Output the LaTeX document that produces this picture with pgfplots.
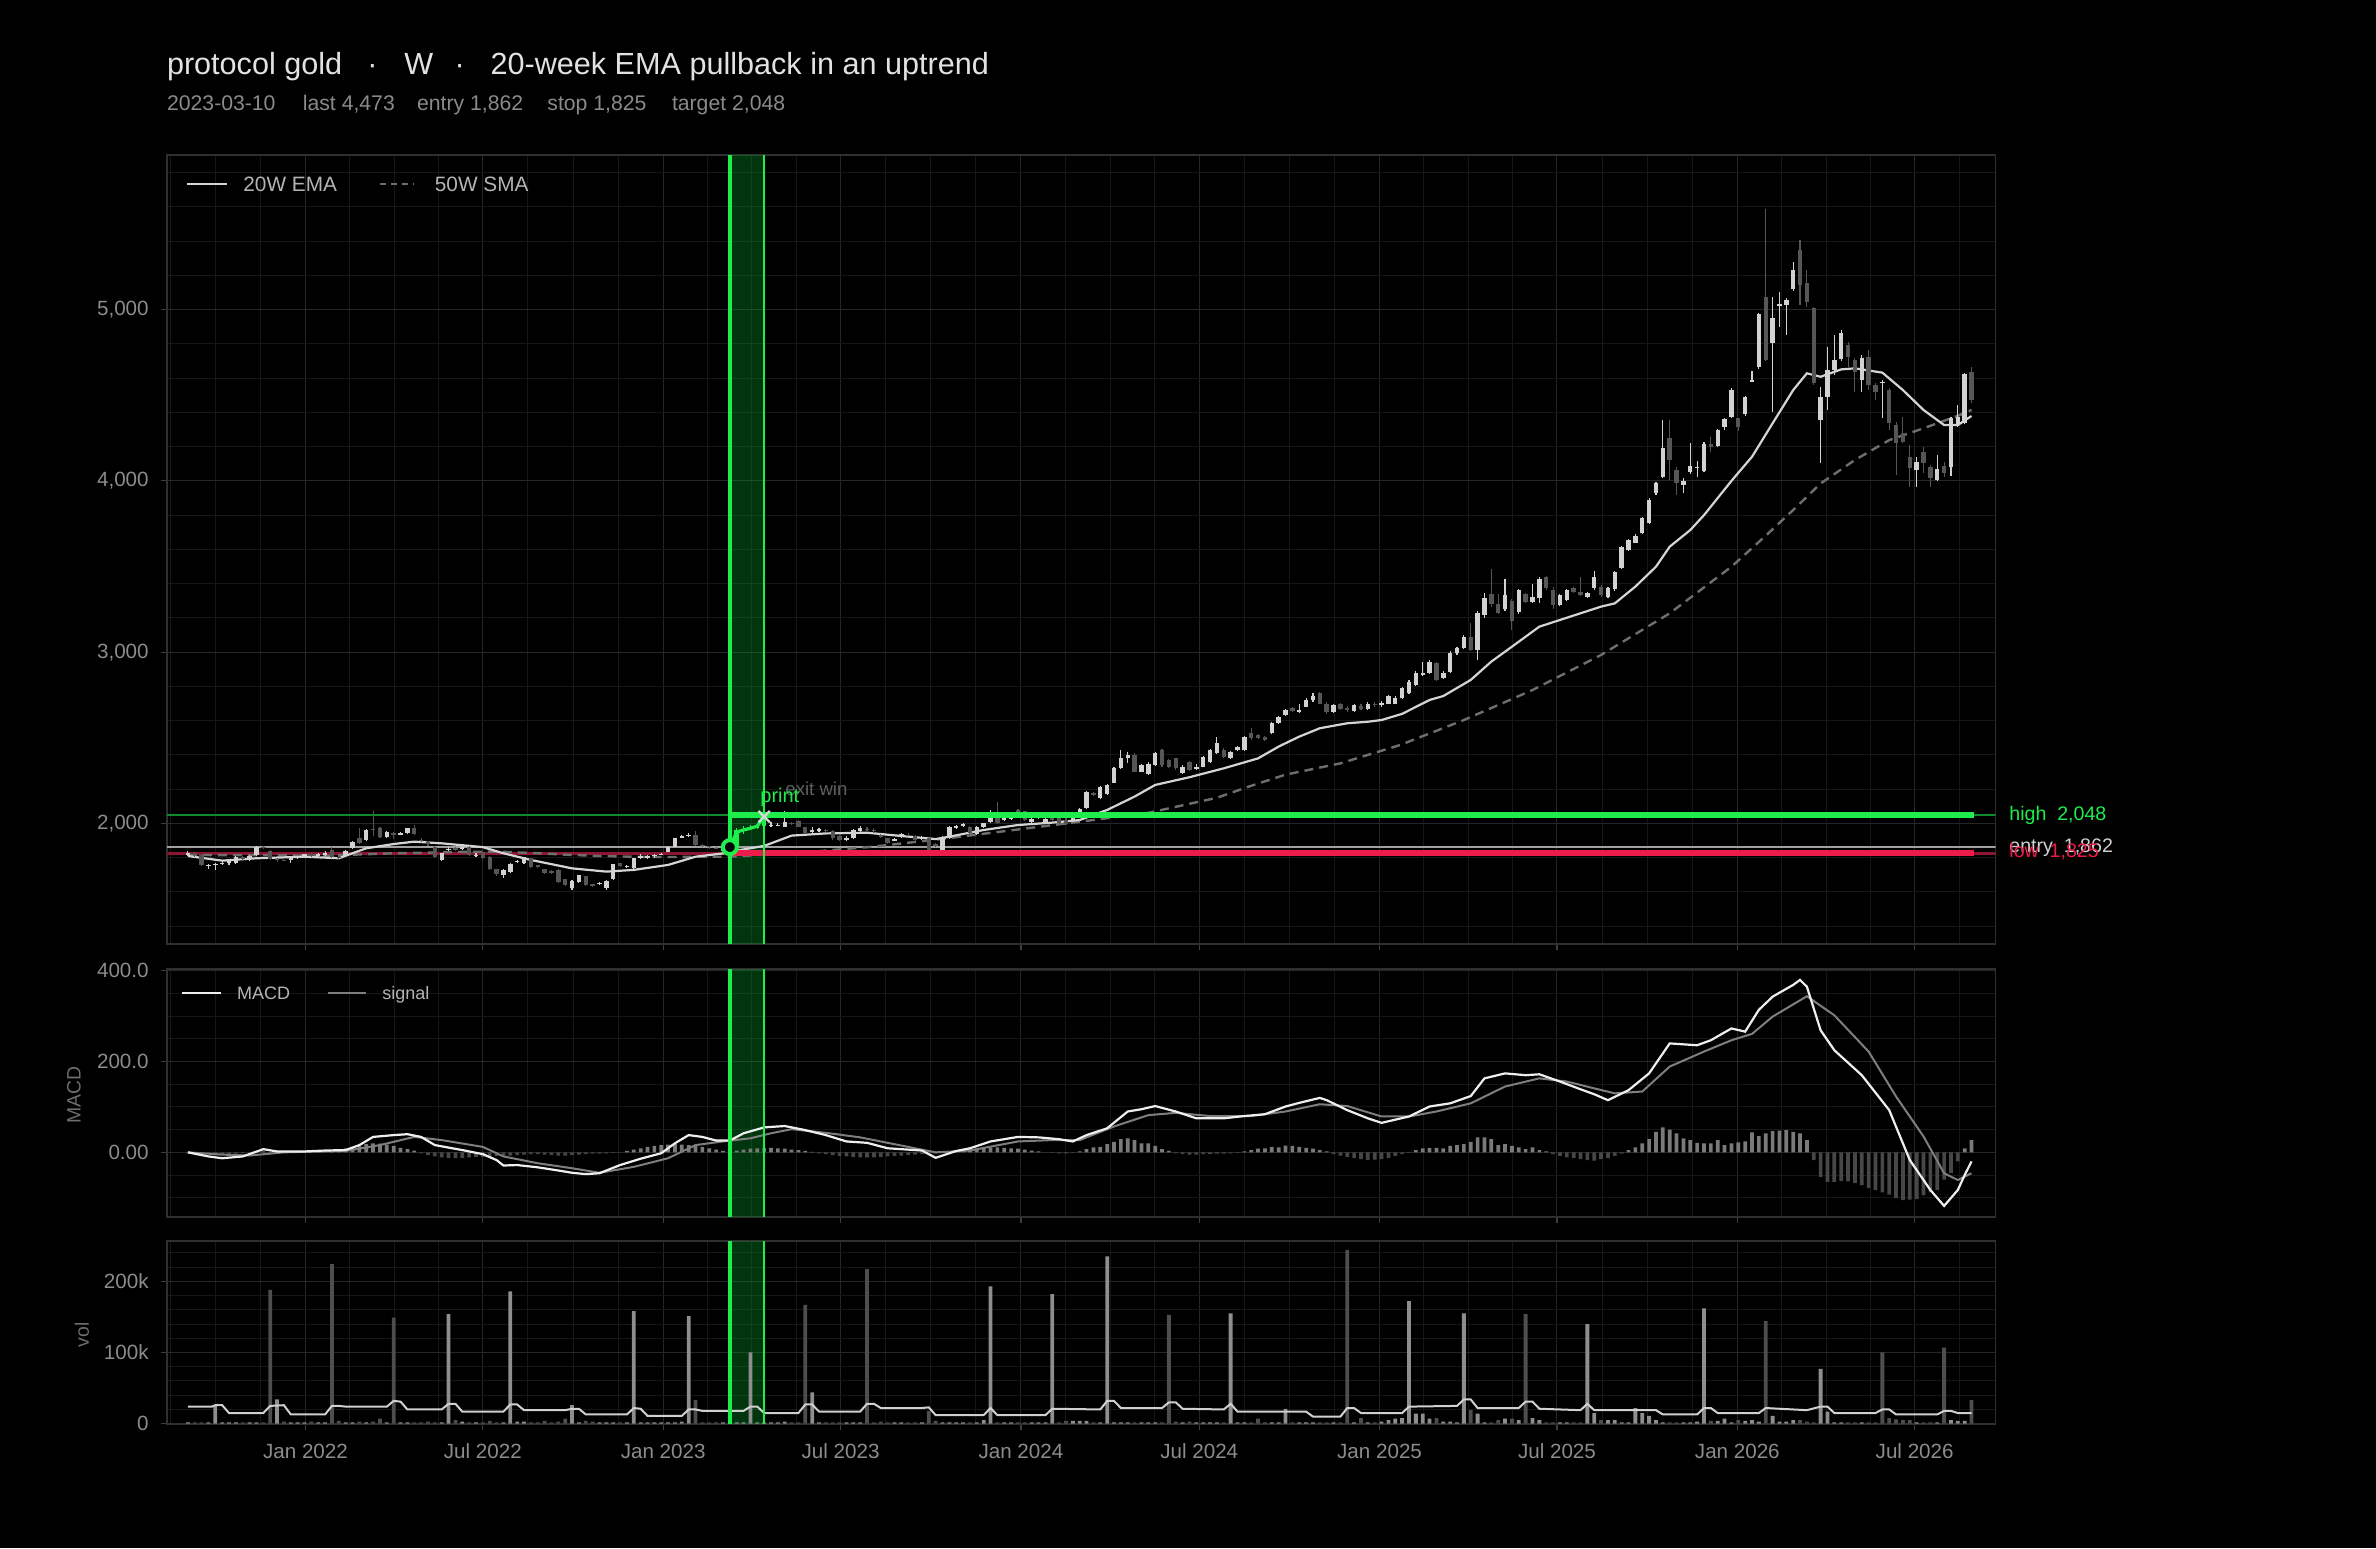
\documentclass[border=0pt]{standalone}
\usepackage{fontspec}
\setmainfont{Liberation Sans}
\usepackage{pgfplots}
\pgfplotsset{compat=1.18}
\usepackage{pgfplotstable}

\definecolor{framec}{HTML}{2F2F2F}
\definecolor{gmaj}{HTML}{262626}
\definecolor{gmin}{HTML}{161616}
\definecolor{tickm}{HTML}{3C3C3C}
\definecolor{tickc}{HTML}{8C8C8C}
\definecolor{upc}{HTML}{D2D2D2}
\definecolor{dnc}{HTML}{565656}
\definecolor{emac}{HTML}{D4D4D4}
\definecolor{smac}{HTML}{6E6E6E}
\definecolor{bgreen}{HTML}{1EEE4B}
\definecolor{dgreen}{HTML}{0E8A2C}
\definecolor{zonec}{HTML}{05B030}
\definecolor{bred}{HTML}{EE1C4A}
\definecolor{dred}{HTML}{8C1632}
\definecolor{entryc}{HTML}{A0A0A0}
\definecolor{xmarkc}{HTML}{D8D8D8}
\definecolor{titlec}{HTML}{E2E2E2}
\definecolor{subc}{HTML}{8A8A8A}
\definecolor{legc}{HTML}{B4B4B4}
\definecolor{macdc}{HTML}{EEEEEE}
\definecolor{sigc}{HTML}{7E7E7E}
\definecolor{hpos}{HTML}{7A7A7A}
\definecolor{hneg}{HTML}{474747}
\definecolor{vlight}{HTML}{8E8E8E}
\definecolor{vdark}{HTML}{4E4E4E}
\definecolor{vlinec}{HTML}{D0D0D0}
\definecolor{exitc}{HTML}{606060}
\definecolor{axlabc}{HTML}{6E6E6E}

% weekly bars, x = week index (0 = 2021-09-03), columns: open high low close volume(k) volume-colour macd-histogram
\pgfplotstableread{
o h l c v vu hs
1815 1838 1810 1830 2 1 -2
1830 1835 1805 1815 2 0 -3
1815 1820 1750 1760 2 0 -4
1750 1765 1735 1758 2 1 -4
1758 1770 1728 1765 26 1 -5
1765 1780 1760 1772 2 1 -5
1772 1788 1758 1782 2 1 -4
1770 1810 1765 1805 2 1 -3
1805 1812 1785 1795 2 0 -2
1795 1815 1780 1810 2 1 0
1815 1870 1812 1865 2 1 1
1865 1868 1852 1858 2 0 2
1840 1845 1785 1790 188 0 1
1792 1798 1775 1786 34 1 0
1788 1795 1780 1784 3 0 0
1785 1808 1770 1802 2 1 1
1800 1812 1795 1806 2 1 1
1806 1824 1800 1820 2 1 0
1822 1826 1805 1812 3 0 0
1812 1826 1806 1820 2 1 1
1818 1840 1812 1830 2 1 1
1845 1860 1800 1806 224 0 3
1806 1808 1790 1797 4 0 6
1810 1848 1805 1842 2 1 9
1855 1900 1850 1894 2 1 12
1913 1975 1880 1884 3 0 15
1904 1968 1895 1962 2 1 18
1970 2073 1925 1962 3 0 20
1972 1978 1918 1923 7 0 19
1923 1958 1918 1952 2 1 17
1945 1950 1912 1935 149 0 14
1935 1950 1930 1945 2 1 10
1943 1976 1940 1972 2 1 7
1972 1990 1935 1940 2 0 4
1905 1918 1890 1895 2 0 -2
1890 1895 1870 1882 3 0 -6
1865 1868 1800 1806 2 0 -9
1787 1830 1783 1826 2 1 -11
1845 1860 1840 1852 154 1 -12
1858 1862 1840 1848 5 0 -13
1850 1870 1845 1865 3 1 -12
1862 1866 1810 1815 2 0 -11
1812 1826 1805 1818 2 1 -10
1835 1838 1790 1796 2 0 -10
1806 1808 1728 1732 4 0 -9
1732 1735 1695 1705 2 0 -8
1700 1735 1682 1728 2 1 -7
1718 1768 1712 1763 186 1 -7
1775 1786 1770 1782 3 1 -6
1771 1806 1765 1802 3 1 -5
1796 1800 1742 1748 2 0 -4
1755 1758 1738 1745 2 0 -4
1732 1735 1705 1708 4 0 -5
1722 1726 1706 1712 2 0 -6
1728 1732 1655 1660 3 0 -7
1674 1678 1636 1641 7 0 -7
1621 1668 1612 1666 26 1 -6
1660 1702 1655 1699 2 1 -5
1693 1696 1637 1641 4 0 -4
1645 1648 1630 1636 3 0 -3
1645 1656 1640 1652 2 1 -3
1625 1670 1612 1666 2 1 -2
1674 1766 1670 1763 2 1 -1
1768 1770 1748 1752 2 0 0
1745 1760 1740 1752 2 1 3
1738 1800 1735 1796 158 1 6
1798 1820 1790 1808 2 1 9
1800 1818 1795 1812 2 1 12
1808 1822 1800 1818 2 1 14
1816 1828 1815 1822 2 1 16
1835 1868 1832 1865 2 1 17
1865 1916 1862 1913 2 1 18
1918 1935 1915 1925 3 1 17
1925 1945 1922 1932 151 1 16
1933 1955 1870 1874 33 0 14
1876 1880 1860 1868 2 0 12
1868 1870 1852 1860 2 0 9
1858 1862 1850 1855 2 0 6
1840 1856 1835 1850 2 1 3
1850 1880 1840 1870 2 1 2
1870 1975 1865 1960 2 1 4
1955 1985 1940 1970 2 1 6
1968 1990 1960 1978 100 1 8
1975 2000 1968 1985 2 1 9
1985 2048 1980 2030 2 1 10
1985 2010 1982 1992 2 1 10
1990 2002 1985 1994 2 1 9
1981 2073 1978 2010 3 1 8
2005 2010 1990 2000 2 0 6
2014 2018 1978 1981 2 0 5
1978 1982 1940 1946 167 0 3
1950 1978 1945 1962 44 1 1
1955 1972 1950 1965 2 1 -2
1962 1966 1950 1958 2 0 -4
1956 1960 1905 1913 2 0 -6
1925 1930 1900 1905 2 0 -8
1905 1925 1900 1918 2 1 -9
1913 1965 1908 1960 2 1 -10
1955 1985 1950 1972 2 1 -11
1970 1980 1958 1965 217 0 -11
1962 1975 1945 1955 2 0 -11
1935 1940 1915 1920 3 0 -10
1913 1918 1882 1888 2 0 -9
1900 1918 1895 1912 2 1 -8
1920 1945 1915 1940 2 1 -7
1935 1945 1925 1930 2 0 -6
1925 1932 1900 1906 2 0 -5
1915 1925 1905 1920 2 1 -4
1913 1918 1840 1845 18 0 -3
1880 1885 1860 1870 4 0 -2
1841 1928 1836 1923 2 1 -1
1913 1986 1910 1981 2 1 1
1976 1992 1970 1985 2 1 3
1988 2000 1982 1995 2 1 5
1978 1984 1938 1942 2 0 7
1936 1986 1930 1981 2 1 9
1978 2005 1975 2000 5 1 10
2010 2079 2005 2069 193 1 11
2069 2127 1995 2000 2 0 11
2020 2062 2015 2050 2 1 10
2025 2060 2020 2055 2 1 9
2078 2085 2045 2050 2 0 8
2070 2075 2015 2020 2 0 6
2010 2032 2005 2025 2 1 4
2030 2050 2025 2035 2 1 2
2010 2035 2005 2025 2 1 0
2040 2045 2015 2020 182 1 -1
2030 2035 1995 2000 2 0 -2
2023 2030 1990 1997 4 0 -2
2020 2040 2015 2030 4 1 -1
2036 2088 2030 2083 4 1 2
2088 2190 2085 2186 4 1 7
2180 2185 2160 2166 2 0 11
2147 2220 2140 2215 2 1 12
2172 2230 2165 2225 235 1 18
2238 2330 2235 2322 2 1 23
2322 2429 2318 2385 2 1 29
2385 2415 2355 2400 2 1 31
2400 2410 2298 2303 2 0 27
2303 2345 2298 2340 2 1 20
2290 2360 2285 2350 2 1 20
2342 2420 2335 2413 2 1 14
2430 2432 2330 2340 2 0 7
2370 2375 2325 2332 153 0 3
2380 2385 2315 2322 3 0 -2
2293 2340 2288 2332 2 1 -4
2360 2365 2305 2312 3 0 -5
2318 2345 2312 2332 2 1 -5
2332 2392 2328 2386 2 1 -4
2361 2435 2355 2429 2 1 -4
2410 2505 2405 2472 2 1 -3
2429 2440 2385 2390 2 0 -3
2380 2425 2375 2419 155 1 -2
2430 2452 2425 2445 2 1 -1
2429 2512 2425 2507 2 1 2
2526 2555 2490 2497 2 0 5
2515 2520 2495 2500 7 0 8
2505 2510 2480 2490 2 0 9
2526 2590 2520 2585 2 1 12
2585 2628 2580 2620 2 1 11
2633 2670 2628 2663 21 1 15
2672 2680 2648 2655 2 0 14
2650 2700 2645 2665 2 1 12
2682 2730 2678 2721 2 1 10
2720 2760 2712 2745 2 1 8
2760 2765 2695 2700 2 0 5
2700 2710 2640 2650 2 0 2
2650 2700 2645 2690 2 1 -4
2695 2705 2660 2670 2 0 -7
2672 2685 2650 2660 244 0 -10
2655 2700 2648 2690 2 1 -13
2688 2695 2665 2670 8 0 -15
2670 2710 2660 2700 2 1 -17
2700 2712 2680 2690 2 0 -16
2690 2715 2682 2705 3 1 -15
2700 2752 2695 2745 5 1 -12
2700 2745 2695 2731 7 1 -8
2731 2795 2725 2789 8 1 -4
2760 2835 2755 2828 172 1 -1
2808 2890 2800 2880 14 1 5
2867 2945 2860 2877 14 1 9
2880 2952 2875 2945 7 1 10
2935 2940 2830 2838 8 0 10
2850 2890 2845 2880 3 1 9
2886 3005 2880 2997 3 1 14
2993 3030 2985 3023 2 1 16
3023 3100 3018 3090 155 1 18
3090 3168 3005 3013 19 0 23
3013 3240 2954 3231 14 1 33
3217 3345 3200 3314 2 1 33
3340 3484 3265 3282 2 0 29
3282 3340 3225 3231 5 0 16
3250 3425 3240 3334 7 1 18
3301 3310 3130 3184 7 0 14
3237 3370 3220 3363 5 1 11
3337 3345 3285 3295 154 0 7
3295 3400 3290 3324 8 1 11
3314 3440 3290 3427 5 1 5
3437 3445 3365 3373 2 0 2
3363 3382 3255 3275 2 0 -4
3275 3340 3268 3334 2 1 -8
3304 3370 3300 3363 2 1 -11
3373 3380 3345 3353 2 0 -13
3353 3437 3330 3334 2 0 -15
3324 3350 3318 3343 140 1 -17
3373 3472 3365 3441 15 1 -18
3382 3390 3325 3334 5 0 -15
3324 3380 3318 3373 5 1 -13
3367 3476 3360 3470 5 1 -8
3490 3622 3485 3616 2 1 -3
3597 3660 3590 3655 2 1 5
3640 3690 3635 3680 22 1 11
3694 3790 3690 3782 15 1 20
3756 3900 3750 3889 11 1 29
3927 3995 3920 3985 5 1 45
4020 4355 4015 4190 2 1 55
4248 4355 4005 4122 2 0 50
4063 4082 3917 3985 2 0 42
3976 4015 3931 4001 2 1 31
4053 4223 4040 4086 2 1 27
4075 4118 4020 4080 3 1 21
4059 4225 4050 4215 162 1 20
4215 4258 4170 4200 4 0 20
4204 4305 4195 4297 4 1 27
4312 4370 4300 4359 7 1 16
4375 4540 4370 4530 2 1 20
4365 4370 4290 4316 5 0 22
4390 4495 4380 4488 4 1 24
4580 4640 4575 4589 5 1 44
4663 4980 4655 4972 3 1 36
5075 5587 4700 4706 144 0 42
4807 5075 4404 4949 11 1 47
5021 5105 4900 5030 3 1 48
5027 5066 4852 5056 3 1 49
5120 5280 5110 5231 5 1 45
5348 5406 5027 5143 5 0 42
5153 5231 5017 5046 3 0 27
5007 5015 4560 4569 2 0 -17
4355 4550 4102 4491 77 1 -54
4491 4783 4413 4647 17 1 -65
4647 4851 4618 4706 2 1 -65
4709 4880 4700 4861 2 1 -63
4793 4813 4667 4725 2 0 -64
4706 4715 4521 4638 2 0 -68
4589 4735 4521 4715 2 1 -72
4725 4764 4530 4560 2 0 -79
4560 4570 4472 4521 2 0 -83
4570 4590 4365 4575 100 0 -88
4530 4540 4300 4336 8 0 -93
4326 4345 4034 4219 6 0 -101
4277 4375 4220 4229 5 0 -105
4141 4210 3966 4073 5 0 -104
4063 4141 3966 4112 2 1 -103
4170 4200 4044 4102 2 0 -95
4083 4093 3966 4015 2 0 -88
4005 4151 3998 4068 2 1 -83
4087 4112 4024 4048 107 0 -60
4083 4375 4029 4365 5 1 -46
4326 4443 4316 4375 4 1 -20
4336 4630 4330 4622 4 1 9
4637 4665 4453 4473 33 0 27
}\wk

\pgfplotsset{
  panel/.style={
    scale only axis, width=914.45pt,
    xmin=-3.086, xmax=263.51,
    axis background/.style={fill=black},
    axis line style={draw=framec, line width=0.8pt},
    grid=both,
    major grid style={draw=gmaj, line width=0.5pt},
    minor grid style={draw=gmin, line width=0.5pt},
    xtick={17.143,43,69.286,95.143,121.43,147.43,173.71,199.57,225.86,251.71},
    minor xtick={-2.571,4,10.571,23.607,30.071,36.536,49.571,56.143,62.714,75.75,82.214,88.679,101.71,108.29,114.86,127.93,134.43,140.93,154,160.57,167.14,180.18,186.64,193.11,206.14,212.71,219.29,232.32,238.79,245.25,258.29},
    xtick pos=bottom, ytick pos=left, tick align=outside,
    major tick length=3pt, minor tick length=0pt,
    tick style={draw=tickm, line width=0.6pt},
    ticklabel style={text=tickc, font=\fontsize{10.3}{12}\selectfont},
    yticklabel style={xshift=-2.5pt},
    clip mode=individual,
  },
  nox/.style={xticklabel style={text opacity=0, opacity=0}},
  upk/.style={restrict expr to domain={\thisrow{c}-\thisrow{o}}{0:100000}},
  dnk/.style={restrict expr to domain={\thisrow{c}-\thisrow{o}}{-100000:0}},
}

\begin{document}
\begin{tikzpicture}
\useasboundingbox (0,0) rectangle (1188pt,774pt);
\fill[black] (0,0) rectangle (1188pt,774pt);

% ---------------- price panel
\begin{axis}[panel, nox, at={(83.35pt,302.05pt)}, anchor=south west, height=394.4pt,
  ymin=1297, ymax=5902,
  ytick={2000,3000,4000,5000}, yticklabels={{2,000},{3,000},{4,000},{5,000}},
  minor ytick={1400,1600,1800,2200,2400,2600,2800,3200,3400,3600,3800,4200,4400,4600,4800,5200,5400,5600,5800}]
\addplot[draw=none, fill=zonec, fill opacity=0.3] coordinates {(79,1297) (84,1297) (84,5902) (79,5902)} -- cycle;
\addplot[dgreen, line width=1.2pt] coordinates {(-3.086,2048) (263.51,2048)};
\addplot[dred, line width=1.2pt] coordinates {(-3.086,1825) (263.51,1825)};
\addplot[entryc, line width=1pt] coordinates {(-3.086,1862) (263.51,1862)};
% 50W SMA
\addplot[smac, line width=1.2pt, dash pattern=on 4.5pt off 3pt] coordinates {
(0,1816) (10,1815) (20,1812) (30,1826) (40,1834) (45,1836) (50,1828) (55,1818) (60,1810) (65,1806) (70,1804) (75,1806) (79,1806) (90,1832) (100,1865) (110,1910) (120,1960) (130,2010) (140,2062) (150,2150) (155,2220) (160,2285) (168,2351) (176.7,2458) (186,2604) (196,2779) (206,2984) (216,3227) (225,3499) (230,3680) (234,3830) (238,3985) (243,4122) (248,4238) (253,4307) (258,4380) (260,4414)};
% 20W EMA
\addplot[emac, line width=1.1pt] coordinates {
(0,1810) (5,1783) (10,1797) (17,1806) (22,1797) (26,1855) (30,1880) (33,1894) (37,1884) (43,1862) (46,1826) (50,1787) (56,1738) (61,1719) (65,1729) (70,1758) (74,1806) (78,1825) (79,1835) (84,1869) (88,1929) (93,1942) (99,1946) (104,1927) (109,1909) (111,1923) (116,1962) (121,1991) (126,2005) (130,2020) (134,2079) (138,2157) (141,2225) (146,2270) (151,2322) (156,2380) (159,2449) (162,2507) (165,2556) (169,2585) (172,2594) (174,2604) (177,2640) (181,2721) (183,2744) (187,2838) (190,2945) (193,3032) (197,3149) (200,3188) (203,3227) (206,3266) (208,3285) (211,3383) (214,3499) (216,3616) (219,3713) (221,3800) (222,3850) (225,4000) (228,4141) (231,4336) (234,4530) (236,4628) (238,4608) (241,4651) (243,4657) (247,4632) (250,4530) (253,4414) (256,4326) (258,4326) (260,4379)};
% candles
\addplot[upc, line width=0.55pt, upk, quiver={u=0, v=\thisrow{h}-\thisrow{l}}] table[x expr=\coordindex, y=l] {\wk};
\addplot[dnc, line width=0.55pt, dnk, quiver={u=0, v=\thisrow{h}-\thisrow{l}}] table[x expr=\coordindex, y=l] {\wk};
\addplot[upc, line width=2.2pt, upk, quiver={u=0, v=\thisrow{c}-\thisrow{o}}] table[x expr=\coordindex, y=o] {\wk};
\addplot[dnc, line width=2.2pt, dnk, quiver={u=0, v=\thisrow{o}-\thisrow{c}}] table[x expr=\coordindex, y=c] {\wk};
\addplot[bgreen, line width=0.55pt, restrict x to domain=78.5:84.5, quiver={u=0, v=\thisrow{h}-\thisrow{l}}] table[x expr=\coordindex, y=l] {\wk};
\addplot[bgreen, line width=2.2pt, restrict x to domain=78.5:84.5, quiver={u=0, v=\thisrow{c}-\thisrow{o}}] table[x expr=\coordindex, y=o] {\wk};
% trade levels
\addplot[bgreen, line width=3pt] coordinates {(79,2048) (260.4,2048)};
\addplot[bred, line width=3pt] coordinates {(79,1825) (260.4,1825)};
\addplot[bgreen, line width=2pt] coordinates {(79,1297) (79,5902)};
\addplot[bgreen, line width=1pt] coordinates {(84,1297) (84,5902)};
\addplot[bgreen, line width=1.6pt] coordinates {(79,1862) (80,1950) (81,1962) (82,1972) (83,1985) (84,2040)};
\addplot[only marks, mark=*, mark size=3.5pt, mark options={draw=bgreen, fill=black, line width=2pt}] coordinates {(79,1862)};
\addplot[only marks, mark=x, mark size=4pt, mark options={draw=xmarkc, line width=1.1pt}] coordinates {(84,2040)};
\end{axis}

% ---------------- MACD panel
\begin{axis}[panel, nox, at={(83.35pt,165.65pt)}, anchor=south west, height=123.85pt,
  ymin=-141.8, ymax=404,
  ytick={0,200,400}, yticklabels={0.00,200.0,400.0},
  minor ytick={-100,-50,50,100,150,250,300,350}]
\addplot[draw=none, fill=zonec, fill opacity=0.3] coordinates {(79,-141.8) (84,-141.8) (84,404) (79,404)} -- cycle;
\addplot[ybar, bar width=1.85pt, bar shift=0pt, fill=hpos, draw=none, restrict expr to domain={\thisrow{hs}}{0:1000}] table[x expr=\coordindex, y=hs] {\wk};
\addplot[ybar, bar width=1.85pt, bar shift=0pt, fill=hneg, draw=none, restrict expr to domain={\thisrow{hs}}{-1000:-0.01}] table[x expr=\coordindex, y=hs] {\wk};
\addplot[sigc, line width=1pt] coordinates {
(0,0) (5,-5) (9,-7) (14,0) (23,3) (28,16) (33,34) (37,27) (43,12) (46,-9) (51,-24) (56,-35) (60,-45) (65,-32) (70,-13) (74,16) (78,24) (82,31) (85,42) (88,51) (93,43) (98,33) (102,21) (109,0) (114,4) (121,24) (126,27) (130,27) (135,57) (140,82) (144,87) (149,80) (155,80) (160,90) (165,106) (169,102) (174,79) (178,79) (182,90) (187,108) (192,145) (197,163) (201,156) (205,141) (208,130) (212,134) (216,189) (221,222) (225,247) (228,261) (231,299) (236,344) (240,302) (245,222) (249,123) (253,35) (256,-46) (258,-61) (260,-46)};
\addplot[macdc, line width=1.1pt] coordinates {
(0,0) (3,-9) (5,-13) (8,-9) (11,7) (13,2) (17,2) (20,4) (23,5) (25,16) (27,34) (30,38) (32,40) (34,34) (36,16) (40,5) (43,-4) (45,-17) (46,-29) (48,-28) (51,-33) (54,-40) (56,-45) (58,-48) (60,-46) (63,-28) (66,-14) (69,-2) (71,20) (73,38) (75,34) (77,26) (79,26) (81,42) (84,55) (87,58) (90,49) (93,38) (96,24) (99,21) (102,9) (107,4) (109,-12) (112,3) (114,9) (117,24) (121,34) (124,33) (127,29) (129,24) (131,38) (134,53) (137,90) (139,95) (141,102) (144,90) (147,75) (151,75) (154,80) (157,84) (160,101) (162,109) (165,120) (166,115) (169,93) (172,75) (174,65) (178,79) (181,101) (184,108) (187,124) (189,163) (192,174) (195,170) (197,172) (200,156) (203,139) (205,128) (207,115) (210,137) (213,174) (216,240) (220,236) (222,247) (225,273) (227,266) (229,314) (231,343) (234,369) (235,380) (236,365) (238,269) (240,225) (244,170) (248,93) (251,-17) (254,-83) (256,-118) (258,-83) (259,-50) (260,-20)};
\addplot[bgreen, line width=2pt] coordinates {(79,-141.8) (79,404)};
\addplot[bgreen, line width=1pt] coordinates {(84,-141.8) (84,404)};
\end{axis}

% ---------------- volume panel
\begin{axis}[panel, at={(83.35pt,62.15pt)}, anchor=south west, height=91.5pt,
  ymin=0, ymax=257,
  ytick={0,100,200}, yticklabels={0,100k,200k},
  minor ytick={20,40,60,80,120,140,160,180,220,240},
  xticklabels={Jan 2022,Jul 2022,Jan 2023,Jul 2023,Jan 2024,Jul 2024,Jan 2025,Jul 2025,Jan 2026,Jul 2026},
  xticklabel style={yshift=-3.5pt}]
\addplot[draw=none, fill=zonec, fill opacity=0.3] coordinates {(79,0) (84,0) (84,257) (79,257)} -- cycle;
\addplot[ybar, bar width=1.9pt, bar shift=0pt, fill=vlight, draw=none, restrict expr to domain={\thisrow{vu}}{0.5:1.5}] table[x expr=\coordindex, y=v] {\wk};
\addplot[ybar, bar width=1.9pt, bar shift=0pt, fill=vdark, draw=none, restrict expr to domain={\thisrow{vu}}{-0.5:0.5}] table[x expr=\coordindex, y=v] {\wk};
\addplot[vlinec, line width=1pt] coordinates {
(0,24) (3.5,24) (4,26) (5,26) (6,15) (11,15) (12,25) (14,26) (15,13) (20,13) (21,25) (22,25) (23,24) (29,24) (30,32) (31,31) (32,20) (37,20) (38,28) (39,28) (40,17) (46,17) (47,27) (48,27) (49,19) (55,19) (56,21) (57,21) (58,13) (64,13) (65,22) (66,21) (67,11) (72,11) (73,20) (74,20) (75,18) (81,18) (82,24) (83,24) (84,15) (89,15) (90,27) (91,27) (92,17) (98,17) (99,28) (100,28) (101,22) (107,22) (108,23) (109,12) (116,12) (117,22) (118,12) (125,12) (126,21) (133,20) (134,32) (135,32) (136,22) (142,22) (143,30) (144,30) (145,21) (151,20) (152,28) (153,17) (163,17) (164,10) (168,10) (169,22) (170,22) (171,15) (177,15) (178,24) (185,25) (186,34) (187,34) (188,22) (194,22) (195,31) (196,31) (197,21) (203,19) (204,28) (205,19) (214,19) (215,13) (220,13) (221,22) (222,22) (223,15) (229,15) (230,22) (236,19) (238,24) (239,24) (240,15) (246,15) (247,20) (248,20) (249,13) (255,13) (256,18) (257,18) (258,15) (260,15)};
\addplot[bgreen, line width=2pt] coordinates {(79,0) (79,257)};
\addplot[bgreen, line width=1pt] coordinates {(84,0) (84,257)};
\end{axis}

% ---------------- titles and annotations
\begin{scope}[every node/.style={inner sep=0pt}]
\node[anchor=base west, text=titlec, font=\fontsize{15.3}{18}\selectfont] at (83.3pt,736.5pt) {protocol gold};
\node[anchor=base, text=titlec, font=\fontsize{15.3}{18}\selectfont] at (186.25pt,736.5pt) {·};
\node[anchor=base west, text=titlec, font=\fontsize{15.3}{18}\selectfont] at (202pt,736.5pt) {W};
\node[anchor=base, text=titlec, font=\fontsize{15.3}{18}\selectfont] at (229.85pt,736.5pt) {·};
\node[anchor=base west, text=titlec, font=\fontsize{15.3}{18}\selectfont] at (245.1pt,736.5pt) {20-week EMA pullback in an uptrend};
\node[anchor=base west, text=subc, font=\fontsize{10.6}{12}\selectfont] at (83.35pt,718.65pt) {2023-03-10};
\node[anchor=base west, text=subc, font=\fontsize{10.6}{12}\selectfont] at (151.25pt,718.65pt) {last 4,473};
\node[anchor=base west, text=subc, font=\fontsize{10.6}{12}\selectfont] at (208.35pt,718.65pt) {entry 1,862};
\node[anchor=base west, text=subc, font=\fontsize{10.6}{12}\selectfont] at (273.5pt,718.65pt) {stop 1,825};
\node[anchor=base west, text=subc, font=\fontsize{10.6}{12}\selectfont] at (335.8pt,718.65pt) {target 2,048};
% price legend
\draw[emac, line width=1.1pt] (93.5pt,682pt) -- (113.5pt,682pt);
\node[anchor=base west, text=legc, font=\fontsize{10.4}{12}\selectfont] at (121.5pt,678.3pt) {20W EMA};
\draw[smac, line width=1.1pt, dash pattern=on 3pt off 2.5pt] (190pt,682pt) -- (207pt,682pt);
\node[anchor=base west, text=legc, font=\fontsize{10.4}{12}\selectfont] at (217.25pt,678.3pt) {50W SMA};
% macd legend
\draw[macdc, line width=1.1pt] (91.2pt,277.5pt) -- (110.35pt,277.5pt);
\node[anchor=base west, text=legc, font=\fontsize{9}{11}\selectfont] at (118.35pt,274.3pt) {MACD};
\draw[sigc, line width=1pt] (163.95pt,277.5pt) -- (183.05pt,277.5pt);
\node[anchor=base west, text=legc, font=\fontsize{9}{11}\selectfont] at (191pt,274.3pt) {signal};
% axis labels
\node[rotate=90, text=axlabc, font=\fontsize{9.7}{11}\selectfont] at (37pt,226.5pt) {MACD};
\node[rotate=90, text=axlabc, font=\fontsize{9.7}{11}\selectfont] at (41pt,106.5pt) {vol};
% trade annotations
\node[anchor=base west, text=exitc, font=\fontsize{9.3}{11}\selectfont] at (392.5pt,376pt) {exit win};
\node[anchor=base west, text=bgreen, font=\fontsize{10}{12}\selectfont] at (380pt,372.85pt) {print};
\node[anchor=base west, text=bgreen, font=\fontsize{9.8}{12}\selectfont] at (1004.5pt,363.6pt) {high\ \ 2,048};
\node[anchor=base west, text=upc, font=\fontsize{9.8}{12}\selectfont] at (1004.5pt,347.6pt) {entry\ \ 1,862};
\node[anchor=base west, text=bred, font=\fontsize{9.8}{12}\selectfont] at (1004.5pt,345.1pt) {low\ \ 1,825};
\end{scope}
\end{tikzpicture}
\end{document}
